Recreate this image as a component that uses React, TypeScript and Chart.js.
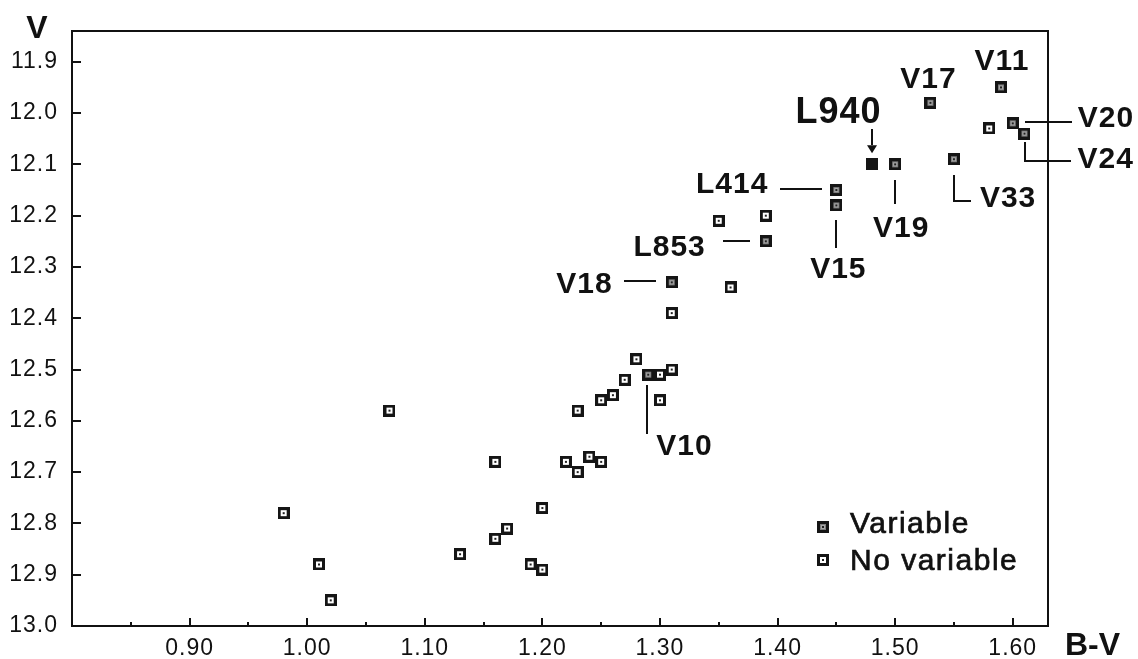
import React, { useEffect, useRef } from 'react';
import { Chart, registerables } from 'chart.js';

Chart.register(...registerables);

// ---- data ----
const variableNames = ['V10', 'L414', 'V15', 'L853', 'V18', 'V19', 'V33', 'V17', 'V11', 'V20', 'V24'];
const variableBV = [1.29, 1.45, 1.45, 1.39, 1.31, 1.50, 1.55, 1.53, 1.59, 1.60, 1.61];
const variableV = [12.51, 12.15, 12.18, 12.25, 12.33, 12.10, 12.09, 11.98, 11.95, 12.02, 12.04];

const nonVariableBV = [0.98, 1.01, 1.02, 1.07, 1.16, 1.23, 1.22, 1.23, 1.20, 1.17, 1.16, 1.13, 1.19, 1.20,
  1.28, 1.30, 1.31, 1.27, 1.26, 1.25, 1.30, 1.24, 1.25, 1.35, 1.39, 1.36, 1.31, 1.58];
const nonVariableV = [12.78, 12.88, 12.95, 12.58, 12.68, 12.58, 12.68, 12.70, 12.77, 12.81, 12.83, 12.86, 12.88, 12.89,
  12.48, 12.51, 12.50, 12.52, 12.55, 12.56, 12.56, 12.67, 12.68, 12.21, 12.20, 12.34, 12.39, 12.03];

const specialName = 'L940';
const specialBV = [1.48];
const specialV = [12.10];

const xTickValues = [0.90, 1.00, 1.10, 1.20, 1.30, 1.40, 1.50, 1.60];
const xMinorTickValues = [0.85, 0.95, 1.05, 1.15, 1.25, 1.35, 1.45, 1.55];
const yTickValues = [11.9, 12.0, 12.1, 12.2, 12.3, 12.4, 12.5, 12.6, 12.7, 12.8, 12.9, 13.0];

const xAxisTitle = 'B-V';
const yAxisTitle = 'V';
const legendLabels = ['Variable', 'No variable'];

// ---- annotation styling (pixel offsets relative to the labelled point) ----
type Ann = {
  name: string;
  size: number;
  dx: number;
  dy: number;
  align: CanvasTextAlign;
  path?: number[][];
  arrow?: boolean;
};
const annotations: Ann[] = [
  { name: 'L940', size: 36, dx: -33, dy: -41, align: 'center', path: [[0, -35], [0, -19]], arrow: true },
  { name: 'V17', size: 30, dx: -2, dy: -15, align: 'center' },
  { name: 'V11', size: 30, dx: 1, dy: -17, align: 'center' },
  { name: 'V20', size: 30, dx: 65, dy: 4, align: 'left', path: [[12, -1], [59, -1]] },
  { name: 'V24', size: 30, dx: 53, dy: 34, align: 'left', path: [[1, 8], [1, 27], [47, 27]] },
  { name: 'V33', size: 30, dx: 26, dy: 48, align: 'left', path: [[0, 16], [0, 42], [17, 42]] },
  { name: 'V19', size: 30, dx: 6, dy: 73, align: 'center', path: [[0, 16], [0, 40]] },
  { name: 'L414', size: 30, dx: -68, dy: 3, align: 'right', path: [[-56, -1], [-14, -1]] },
  { name: 'V15', size: 30, dx: 2, dy: 73, align: 'center', path: [[0, 15], [0, 43]] },
  { name: 'L853', size: 30, dx: -60, dy: 15, align: 'right', path: [[-43, 0], [-16, 0]] },
  { name: 'V18', size: 30, dx: -59, dy: 11, align: 'right', path: [[-48, -1], [-16, -1]] },
  { name: 'V10', size: 30, dx: 8, dy: 80, align: 'left', path: [[-1, 10], [-1, 59]] },
];

const FONT = '"Liberation Sans", Arial, sans-serif';
const INK = '#111111';

function makeMarker(kind: 'var' | 'non' | 'special', size = 12): HTMLCanvasElement {
  const c = document.createElement('canvas');
  c.width = size;
  c.height = size;
  const g = c.getContext('2d')!;
  g.fillStyle = '#151515';
  g.fillRect(0, 0, size, size);
  if (kind === 'special') return c;
  const b = 3;
  g.fillStyle = kind === 'var' ? '#7e7e7e' : '#ffffff';
  g.fillRect(b, b, size - 2 * b, size - 2 * b);
  if (kind === 'var') {
    g.fillStyle = '#a8a8a8';
    g.fillRect(b + 1, b + 1, size - 2 * b - 2, size - 2 * b - 2);
  }
  g.fillStyle = '#222';
  const d = 2;
  g.fillRect(size / 2 - d / 2, size / 2 - d / 2, d, d);
  return c;
}

export default function App() {
  const ref = useRef<HTMLCanvasElement>(null);

  useEffect(() => {
    document.body.style.margin = '0';
    document.body.style.overflow = 'hidden';
    const canvas = ref.current!;
    const varMarker = makeMarker('var');
    const nonMarker = makeMarker('non');
    const specialMarker = makeMarker('special');

    const lookup = (name: string): { x: number; y: number } | null => {
      const i = variableNames.indexOf(name);
      if (i >= 0) return { x: variableBV[i], y: variableV[i] };
      if (name === specialName) return { x: specialBV[0], y: specialV[0] };
      return null;
    };

    const decor = {
      id: 'decor',
      beforeDraw(chart: any) {
        const ctx = chart.ctx;
        ctx.save();
        ctx.fillStyle = '#ffffff';
        ctx.fillRect(0, 0, chart.width, chart.height);
        ctx.restore();
        (ctx as any).letterSpacing = '1px';
      },
      beforeDatasetsDraw(chart: any) {
        const ctx = chart.ctx;
        const a = chart.chartArea;
        const xs = chart.scales.x;
        const ys = chart.scales.y;
        ctx.save();
        ctx.strokeStyle = INK;
        ctx.lineWidth = 2;
        ctx.strokeRect(a.left, a.top, a.right - a.left, a.bottom - a.top);
        ctx.beginPath();
        yTickValues.forEach((v) => {
          const y = Math.round(ys.getPixelForValue(v));
          ctx.moveTo(a.left, y);
          ctx.lineTo(a.left + 9, y);
        });
        xTickValues.forEach((v) => {
          const x = Math.round(xs.getPixelForValue(v));
          ctx.moveTo(x, a.bottom);
          ctx.lineTo(x, a.bottom - 8);
        });
        xMinorTickValues.forEach((v) => {
          const x = Math.round(xs.getPixelForValue(v));
          ctx.moveTo(x, a.bottom);
          ctx.lineTo(x, a.bottom - 4);
        });
        ctx.stroke();
        ctx.restore();
      },
      afterDraw(chart: any) {
        const ctx = chart.ctx;
        const a = chart.chartArea;
        const xs = chart.scales.x;
        const ys = chart.scales.y;
        ctx.save();
        ctx.fillStyle = INK;
        ctx.strokeStyle = INK;
        ctx.textBaseline = 'alphabetic';

        // axis titles
        (ctx as any).letterSpacing = '0px';
        ctx.font = `bold 32px ${FONT}`;
        ctx.textAlign = 'center';
        ctx.fillText(yAxisTitle, a.left - 35, a.top + 7);
        ctx.textAlign = 'left';
        ctx.fillText(xAxisTitle, a.right + 17, a.bottom + 29);

        // annotations
        (ctx as any).letterSpacing = '1px';
        annotations.forEach((an) => {
          const p = lookup(an.name);
          if (!p) return;
          const px = xs.getPixelForValue(p.x);
          const py = ys.getPixelForValue(p.y);
          ctx.font = `bold ${an.size}px ${FONT}`;
          ctx.textAlign = an.align;
          ctx.fillText(an.name, px + an.dx, py + an.dy);
          if (an.path) {
            ctx.lineWidth = 2;
            ctx.beginPath();
            an.path.forEach((pt, k) => {
              const X = Math.round(px + pt[0]);
              const Y = Math.round(py + pt[1]);
              if (k === 0) ctx.moveTo(X, Y);
              else ctx.lineTo(X, Y);
            });
            ctx.stroke();
          }
          if (an.arrow && an.path) {
            const last = an.path[an.path.length - 1];
            const X = Math.round(px + last[0]);
            const Y = py + last[1];
            ctx.beginPath();
            ctx.moveTo(X - 5, Y);
            ctx.lineTo(X + 5, Y);
            ctx.lineTo(X, Y + 8);
            ctx.closePath();
            ctx.fill();
          }
        });

        // legend
        const markers = [varMarker, nonMarker];
        const rowMarkerY = [a.bottom - 99, a.bottom - 66];
        const rowTextY = [a.bottom - 93, a.bottom - 56];
        ctx.font = `30px ${FONT}`;
        (ctx as any).letterSpacing = '1.5px';
        ctx.textAlign = 'left';
        ctx.lineWidth = 0.7;
        legendLabels.forEach((label, i) => {
          const mx = a.right - 225;
          const my = rowMarkerY[i];
          ctx.drawImage(markers[i], Math.round(mx - 6), Math.round(my - 6), 12, 12);
          ctx.fillText(label, a.right - 198, rowTextY[i]);
          ctx.strokeText(label, a.right - 198, rowTextY[i]);
        });
        ctx.restore();
      },
    };

    const chart = new Chart(canvas, {
      type: 'scatter',
      data: {
        datasets: [
          {
            label: legendLabels[0],
            data: variableBV.map((x, i) => ({ x, y: variableV[i] })),
            pointStyle: varMarker as any,
            pointRadius: 6,
            pointHoverRadius: 6,
          },
          {
            label: legendLabels[1],
            data: nonVariableBV.map((x, i) => ({ x, y: nonVariableV[i] })),
            pointStyle: nonMarker as any,
            pointRadius: 6,
            pointHoverRadius: 6,
          },
          {
            label: specialName,
            data: specialBV.map((x, i) => ({ x, y: specialV[i] })),
            pointStyle: specialMarker as any,
            pointRadius: 6,
            pointHoverRadius: 6,
          },
        ],
      },
      options: {
        responsive: false,
        animation: false,
        events: [],
        layout: { padding: { top: 31, right: 90, left: 0, bottom: 0 } },
        plugins: {
          legend: { display: false },
          tooltip: { enabled: false },
        },
        scales: {
          x: {
            type: 'linear',
            position: 'bottom',
            min: 0.8,
            max: 1.63,
            afterBuildTicks: (s: any) => {
              s.ticks = xTickValues.map((v) => ({ value: v }));
            },
            afterFit: (s: any) => {
              s.height = 33;
            },
            ticks: {
              callback: (v: any) => Number(v).toFixed(2),
              font: { family: FONT, size: 23 },
              color: INK,
              padding: 9,
              autoSkip: false,
              maxRotation: 0,
            },
            grid: { display: false, drawTicks: false },
            border: { display: false },
          },
          y: {
            type: 'linear',
            reverse: true,
            min: 11.84,
            max: 13.0,
            afterBuildTicks: (s: any) => {
              s.ticks = yTickValues.map((v) => ({ value: v }));
            },
            afterFit: (s: any) => {
              s.width = 72;
            },
            ticks: {
              callback: (v: any) => Number(v).toFixed(1),
              font: { family: FONT, size: 23 },
              color: INK,
              padding: 14,
              autoSkip: false,
            },
            grid: { display: false, drawTicks: false },
            border: { display: false },
          },
        },
      } as any,
      plugins: [decor],
    });

    return () => chart.destroy();
  }, []);

  return <canvas ref={ref} width={1138} height={659} style={{ display: 'block' }} />;
}
